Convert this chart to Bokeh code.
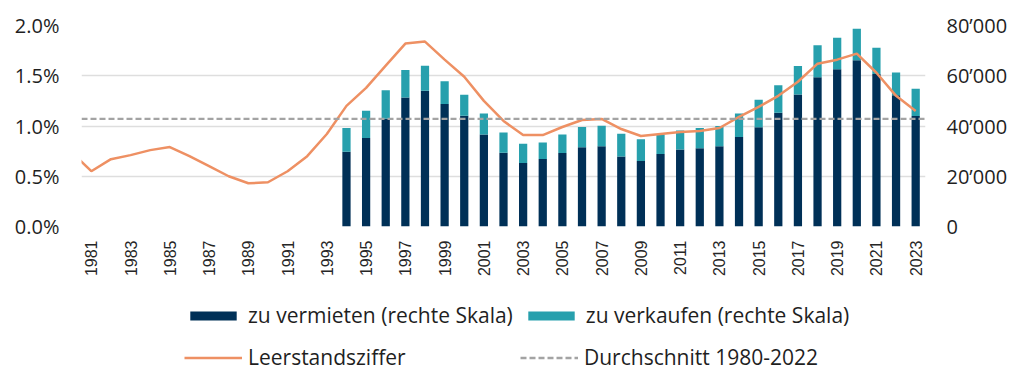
import math
from bokeh.plotting import figure
from bokeh.layouts import column
from bokeh.models import (ColumnDataSource, Range1d, LinearAxis, FixedTicker, Span,
                          Legend, LegendItem)
from bokeh.embed import file_html
from bokeh.resources import INLINE

# ---------------- data ----------------
line_years = list(range(1980, 2024))
vacancy_pct = [0.74, 0.55, 0.67, 0.71, 0.76, 0.79, 0.70, 0.60, 0.50, 0.43,
               0.44, 0.55, 0.70, 0.92, 1.20, 1.38, 1.60, 1.82, 1.84, 1.66,
               1.49, 1.25, 1.05, 0.91, 0.91, 0.99, 1.06, 1.07, 0.97, 0.90,
               0.92, 0.94, 0.95, 0.98, 1.09, 1.19, 1.30, 1.44, 1.62, 1.66,
               1.72, 1.53, 1.30, 1.15]
bar_years = list(range(1994, 2024))
to_rent = [29800, 35200, 42900, 51300, 54000, 48800, 44100, 36600, 29400, 25300,
           26900, 29300, 31500, 31900, 27900, 26100, 28900, 30600, 31100, 31900,
           35600, 39500, 45300, 52500, 59400, 62600, 66200, 60700, 52200, 44000]
to_sell = [9400, 10900, 11300, 11000, 10000, 9000, 8300, 8400, 8000, 7600,
           6500, 7300, 8100, 8200, 9000, 8600, 7700, 7600, 8100, 8100,
           9400, 10900, 10900, 11400, 12700, 12500, 12500, 10400, 9100, 10800]
average_pct = 1.07

x_ticks = list(range(1981, 2024, 2))
left_ticks = [0, 0.5, 1.0, 1.5, 2.0]
left_labels = ["0.0%", "0.5%", "1.0%", "1.5%", "2.0%"]
right_ticks = [0, 20000, 40000, 60000, 80000]
right_labels = ["0", "20\u2019000", "40\u2019000", "60\u2019000", "80\u2019000"]

series_labels = ["zu vermieten (rechte Skala)", "zu verkaufen (rechte Skala)",
                 "Leerstandsziffer", "Durchschnitt 1980-2022"]

# ---------------- style ----------------
NAVY = "#003057"
TEAL = "#27A0AD"
ORANGE = "#EE9063"
GREY = "#A3A3A3"
GRID = "#DEDEDE"
TXT = "#1F1F1F"
FONT = "Open Sans"

p = figure(width=1016, height=286, output_backend="svg", toolbar_location=None,
           x_range=Range1d(1980.5, 2023.5), y_range=Range1d(0, 2.0),
           min_border_left=81, min_border_right=91, min_border_top=25,
           min_border_bottom=60)
p.outline_line_color = None
p.background_fill_color = "white"
p.border_fill_color = "white"
p.extra_y_ranges = {"right": Range1d(0, 80000)}

bar_src = ColumnDataSource(dict(year=bar_years, rent=to_rent, sell=to_sell))
bars = p.vbar_stack(["rent", "sell"], x="year", width=0.42, color=[NAVY, TEAL],
                    line_color=None, source=bar_src, y_range_name="right")

avg = Span(location=average_pct, dimension="width", line_color=GREY,
           line_width=2.3, line_dash="6 3")
p.add_layout(avg)

line_src = ColumnDataSource(dict(year=line_years, v=vacancy_pct))
p.line("year", "v", source=line_src, line_color=ORANGE, line_width=2.5)

# grid
p.xgrid.grid_line_color = None
p.ygrid.grid_line_color = GRID
p.ygrid.grid_line_width = 1.6
p.ygrid.ticker = FixedTicker(ticks=left_ticks)

# axes
xa = p.xaxis[0]
xa.ticker = FixedTicker(ticks=x_ticks)
xa.major_label_overrides = {y: str(y) for y in x_ticks}
xa.major_label_orientation = math.pi / 2
xa.axis_line_color = None
xa.major_tick_line_color = None
xa.minor_tick_line_color = None
xa.major_tick_out = 0
xa.major_label_standoff = 14
xa.major_label_text_font = "Liberation Sans"
xa.major_label_text_font_size = "16px"
xa.major_label_text_color = "#262626"

ya = p.yaxis[0]
ya.ticker = FixedTicker(ticks=left_ticks)
ya.major_label_overrides = dict(zip(left_ticks, left_labels))
ya.axis_line_color = None
ya.major_tick_line_color = None
ya.minor_tick_line_color = None
ya.major_tick_out = 0
ya.major_label_standoff = 22
ya.major_label_text_font = FONT
ya.major_label_text_font_size = "20px"
ya.major_label_text_color = TXT

ra = LinearAxis(y_range_name="right", ticker=FixedTicker(ticks=right_ticks))
ra.major_label_overrides = dict(zip(right_ticks, right_labels))
ra.axis_line_color = None
ra.major_tick_line_color = None
ra.minor_tick_line_color = None
ra.major_tick_out = 0
ra.major_label_standoff = 21
ra.major_label_text_font = FONT
ra.major_label_text_font_size = "20px"
ra.major_label_text_color = TXT
p.add_layout(ra, "right")

# ---------------- legend panel (its frame is aligned with the chart's frame) ----------------
# proxy renderers use the same data, but the panel's ranges keep them out of view
q = figure(width=1016, height=101, output_backend="svg", toolbar_location=None,
           x_range=Range1d(1980.5, 2023.5), y_range=Range1d(3, 4),
           min_border=0, x_axis_type=None, y_axis_type=None)
q.extra_y_ranges = {"bars": Range1d(100000, 300000)}
q.outline_line_color = None
q.xgrid.grid_line_color = None
q.ygrid.grid_line_color = None
r_rent = q.vbar(x="year", top="rent", width=0.42, source=bar_src, color=NAVY,
                line_color=None, y_range_name="bars")
r_sell = q.vbar(x="year", top="sell", width=0.42, source=bar_src, color=TEAL,
                line_color=None, y_range_name="bars")
r_line = q.line("year", "v", source=line_src, line_color=ORANGE, line_width=2.5)
r_avg = q.line("year", "v", source=line_src, line_color=GREY, line_width=2.3, line_dash="6 3")


def make_legend(items, loc):
    return Legend(items=items, orientation="horizontal", location=loc,
                  glyph_width=58, glyph_height=11, label_standoff=6,
                  label_width=263, spacing=9, padding=0, margin=0,
                  label_height=20,
                  label_text_font=FONT, label_text_font_size="21px",
                  label_text_color=TXT, border_line_color=None,
                  background_fill_alpha=0)


leg1 = make_legend([LegendItem(label=series_labels[0], renderers=[r_rent]),
                    LegendItem(label=series_labels[1], renderers=[r_sell])],
                   (103, 58))
leg2 = make_legend([LegendItem(label=series_labels[2], renderers=[r_line]),
                    LegendItem(label=series_labels[3], renderers=[r_avg])],
                   (103, 16))
q.add_layout(leg1)
q.add_layout(leg2)

open("out.html", "w").write(file_html(column(p, q, spacing=0), INLINE))
